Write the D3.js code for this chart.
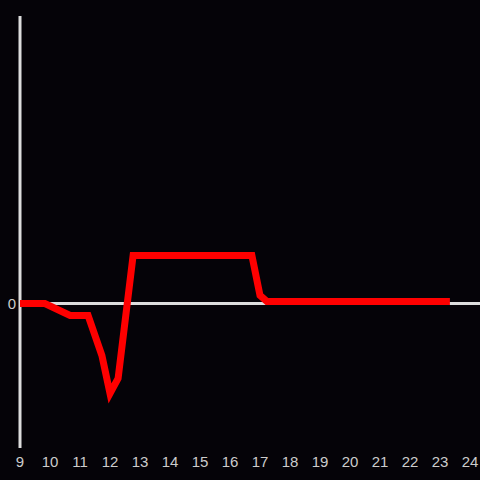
<!DOCTYPE html>
<html>
<head>
<meta charset="utf-8">
<script src="https://cdn.jsdelivr.net/npm/d3@7"></script>
<style>
  html, body { margin: 0; padding: 0; background: #050308; }
  svg { display: block; }
</style>
</head>
<body>
<script>
const width = 480;
const height = 480;

// hour of day and value (arbitrary units)
const hours = [9, 9.83, 10.67, 11.27, 11.73, 12.0, 12.27, 12.77, 16.73, 17.0, 17.23, 23.33];
const values = [0, 0, -12, -12, -52, -90, -75, 48, 48, 8, 2, 2];
const xTicks = d3.range(9, 25);
const yTicks = [0];

const x = d3.scaleLinear().domain([9, 24]).range([20, 470]);
const y = d3.scaleLinear().domain([-145, 287]).range([448.5, 16.5]);

const svg = d3.select('body').append('svg')
  .attr('width', width)
  .attr('height', height);

svg.append('rect')
  .attr('width', width)
  .attr('height', height)
  .attr('fill', '#050308');

// zero line
svg.append('line')
  .attr('x1', x(9)).attr('x2', width)
  .attr('y1', y(0)).attr('y2', y(0))
  .attr('stroke', '#dddddd')
  .attr('stroke-width', 3);

// y axis line
svg.append('line')
  .attr('x1', x(9)).attr('x2', x(9))
  .attr('y1', 16).attr('y2', 448)
  .attr('stroke', '#dddddd')
  .attr('stroke-width', 3);

const data = hours.map((h, i) => [h, values[i]]);

const line = d3.line()
  .x((d) => x(d[0]))
  .y((d) => y(d[1]));

svg.append('path')
  .datum(data)
  .attr('d', line)
  .attr('fill', 'none')
  .attr('stroke', '#ff0000')
  .attr('stroke-width', 7)
  .attr('stroke-linejoin', 'miter');

svg.selectAll('text.xt')
  .data(xTicks)
  .join('text')
  .attr('class', 'xt')
  .attr('x', (d) => x(d))
  .attr('y', 461)
  .attr('text-anchor', 'middle')
  .attr('dominant-baseline', 'central')
  .attr('font-family', 'Liberation Sans, Arial, sans-serif')
  .attr('font-size', 15)
  .attr('fill', '#cccccc')
  .text((d) => d);

svg.selectAll('text.yt')
  .data(yTicks)
  .join('text')
  .attr('class', 'yt')
  .attr('x', 16)
  .attr('y', (d) => y(d))
  .attr('text-anchor', 'end')
  .attr('dominant-baseline', 'central')
  .attr('font-family', 'Liberation Sans, Arial, sans-serif')
  .attr('font-size', 15)
  .attr('fill', '#cccccc')
  .text((d) => d);
</script>
</body>
</html>
